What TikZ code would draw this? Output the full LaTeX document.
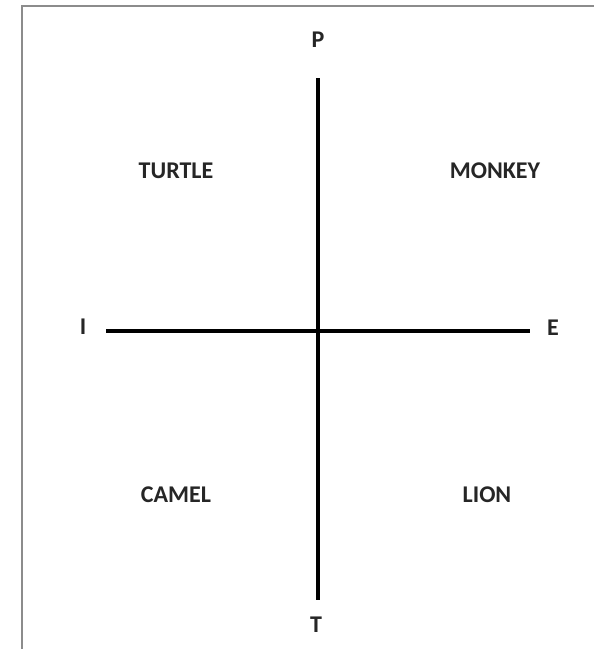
\documentclass[tikz,border=0pt]{standalone}
\usepackage{fontspec}
\setmainfont{Carlito}
\begin{document}
\begin{tikzpicture}[x=1pt,y=-1pt,
  lbl/.style={font=\fontsize{24}{28}\selectfont\bfseries, text=black!85, inner sep=0pt},
  axis/.style={line width=3.5pt, black},
  frame/.style={line width=2pt, black!45}]
\useasboundingbox (0,0) rectangle (594,649);
\fill[white] (0,0) rectangle (594,649);
\draw[frame] (22,649) -- (22,6) -- (594,6);
\coordinate (top) at (318,78);
\coordinate (bot) at (318,600);
\coordinate (left) at (106,331);
\coordinate (right) at (530,331);
\draw[axis] (top) -- (bot);
\draw[axis] (left) -- (right);
\node[lbl] (P) at (318,40) {P};
\node[lbl] (T) at (316,625) {T};
\node[lbl] (I) at (83,327) {I};
\node[lbl] (E) at (553,328) {E};
\node[lbl] (turtle) at (176,171) {TURTLE};
\node[lbl] (monkey) at (495,171) {MONKEY};
\node[lbl] (camel) at (176,495) {CAMEL};
\node[lbl] (lion) at (487,495) {LION};
\end{tikzpicture}
\end{document}
